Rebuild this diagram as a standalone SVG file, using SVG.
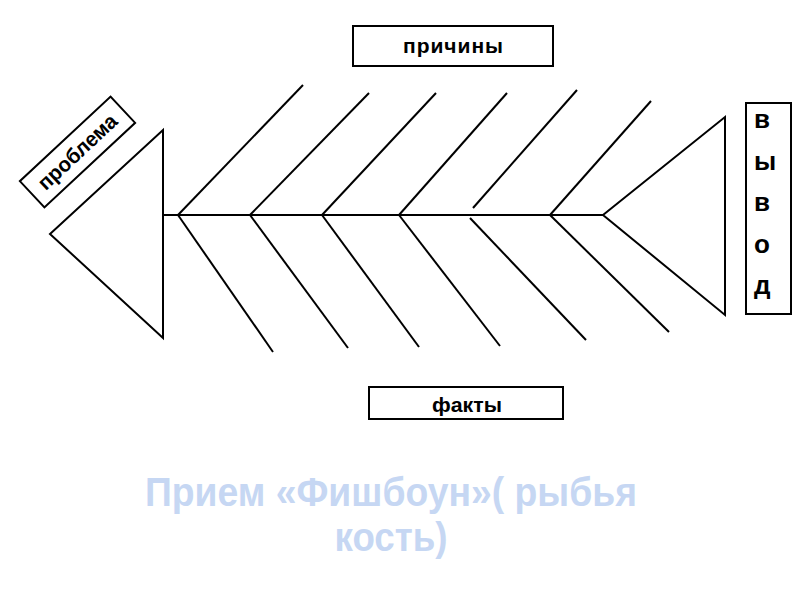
<svg xmlns="http://www.w3.org/2000/svg" width="800" height="600" viewBox="0 0 800 600">
<style>
.ln{stroke:#000;stroke-width:2;fill:none;stroke-linecap:butt}
.box{fill:#fff;stroke:#000;stroke-width:2}
.lbl{font-family:"Liberation Sans",Arial,sans-serif;font-weight:bold;font-size:21px;fill:#000;text-anchor:middle}
.vl{font-family:"Liberation Sans",Arial,sans-serif;font-weight:bold;font-size:26px;fill:#000}
.ttl{font-family:"Liberation Sans",Arial,sans-serif;font-weight:bold;font-size:41px;fill:#c6d7f3;text-anchor:middle}
</style>
<rect width="800" height="600" fill="#fff"/>
<g id="connectors">
<line class="ln" x1="163" y1="215" x2="603" y2="215"/>
<line class="ln" x1="178" y1="215" x2="303" y2="85"/>
<line class="ln" x1="250" y1="215" x2="369" y2="93"/>
<line class="ln" x1="322" y1="215" x2="436" y2="93"/>
<line class="ln" x1="399" y1="215" x2="507" y2="93"/>
<line class="ln" x1="473" y1="208" x2="577" y2="90"/>
<line class="ln" x1="550" y1="215" x2="651" y2="101"/>
<line class="ln" x1="178" y1="215" x2="273" y2="352"/>
<line class="ln" x1="250" y1="215" x2="348" y2="348"/>
<line class="ln" x1="322" y1="215" x2="419" y2="347"/>
<line class="ln" x1="399" y1="215" x2="500" y2="346"/>
<line class="ln" x1="470" y1="218" x2="586" y2="340"/>
<line class="ln" x1="550" y1="215" x2="669" y2="332"/>
</g>
<g id="head">
<polygon class="ln" points="163,130 163,338 50,234"/>
</g>
<g id="tail">
<polygon class="ln" points="603,215 725,117 725,315"/>
</g>
<g id="problem">
<g transform="translate(77.5,152) rotate(-43)">
<rect class="box" x="-62" y="-18" width="124" height="36"/>
<text class="lbl" x="0" y="7" textLength="100" lengthAdjust="spacingAndGlyphs">проблема</text>
</g>
</g>
<g id="causes">
<rect class="box" x="353" y="26" width="200" height="40"/>
<text class="lbl" x="453" y="53" textLength="100" lengthAdjust="spacing">причины</text>
</g>
<g id="facts">
<rect class="box" x="369" y="387" width="194" height="32"/>
<text class="lbl" x="467" y="412" textLength="70" lengthAdjust="spacingAndGlyphs">факты</text>
</g>
<g id="conclusion">
<rect class="box" x="746" y="103" width="45" height="211"/>
<text class="vl" x="754" y="128">в</text>
<text class="vl" x="754" y="170">ы</text>
<text class="vl" x="754" y="211">в</text>
<text class="vl" x="754" y="253">о</text>
<text class="vl" x="754" y="294">д</text>
</g>
<g id="title">
<text class="ttl" x="391" y="506" textLength="492" lengthAdjust="spacingAndGlyphs">Прием «Фишбоун»( рыбья</text>
<text class="ttl" x="391" y="551" textLength="113" lengthAdjust="spacingAndGlyphs">кость)</text>
</g>
</svg>
